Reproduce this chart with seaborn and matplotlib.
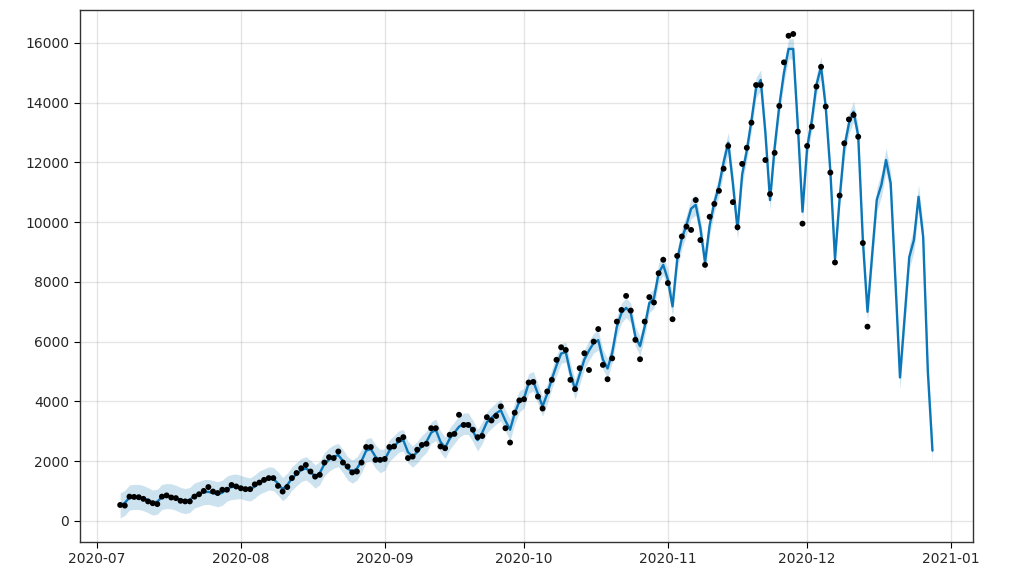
import pandas as pd
import numpy as np
import matplotlib
matplotlib.use("Agg")
import matplotlib.pyplot as plt
import matplotlib.dates as mdates
import seaborn as sns

# observed daily values, 2020-07-06 .. 2020-12-14
y_jul = [530, 510, 810, 800, 790, 735, 650, 590, 560, 810, 850, 780, 760, 670,
         650, 650, 810, 890, 1000, 1130, 980, 930, 1040, 1040, 1200, 1150]
y_aug = [1090, 1060, 1060, 1220, 1280, 1370, 1430, 1430, 1170, 980, 1130, 1430,
         1600, 1760, 1870, 1650, 1480, 1540, 1950, 2130, 2100, 2320, 1950, 1820,
         1620, 1650, 1950, 2470, 2470, 2040, 2040]
y_sep = [2070, 2470, 2490, 2710, 2800, 2100, 2150, 2380, 2540, 2580, 3100, 3100,
         2490, 2430, 2880, 2910, 3550, 3210, 3210, 3050, 2800, 2840, 3470, 3360,
         3510, 3830, 3100, 2620, 3620, 4030]
y_oct = [4070, 4630, 4650, 4160, 3760, 4330, 4720, 5390, 5810, 5720, 4720, 4410,
         5110, 5610, 5050, 6000, 6420, 5220, 4740, 5440, 6670, 7060, 7530, 7040,
         6060, 5410, 6670, 7490, 7310, 8290, 8740]
y_nov = [7960, 6750, 8870, 9520, 9850, 9740, 10740, 9400, 8570, 10180, 10610,
         11050, 11790, 12550, 10670, 9830, 11950, 12490, 13330, 14590, 14590,
         12080, 10940, 12320, 13890, 15350, 16240, 16300, 13030, 9950]
y_dec = [12550, 13200, 14540, 15200, 13870, 11660, 8650, 10890, 12640, 13440,
         13590, 12860, 9300, 6500]

# fitted / forecast line, 2020-07-06 .. 2020-12-28
yhat_jul = [520, 600, 780, 800, 800, 760, 690, 610, 640, 800, 830, 820, 770, 700,
            660, 700, 850, 900, 960, 970, 930, 890, 940, 1080, 1130, 1150]
yhat_aug = [1130, 1080, 1050, 1150, 1280, 1350, 1420, 1400, 1250, 1060, 1200,
            1420, 1560, 1700, 1760, 1640, 1480, 1600, 1900, 2050, 2150, 2200,
            2000, 1750, 1650, 1750, 2000, 2350, 2400, 2150, 2000]
yhat_sep = [2050, 2350, 2500, 2650, 2700, 2300, 2150, 2300, 2500, 2650, 2950,
            3050, 2650, 2450, 2750, 2950, 3150, 3250, 3250, 3000, 2700, 2950,
            3300, 3450, 3600, 3700, 3350, 3050, 3600, 4000]
yhat_oct = [4100, 4600, 4670, 4250, 3830, 4250, 4750, 5200, 5600, 5650, 4950,
            4400, 4900, 5400, 5700, 5950, 6050, 5400, 5100, 5620, 6500, 6960,
            7130, 6960, 6170, 5850, 6500, 7290, 7450, 8290, 8570]
yhat_nov = [8070, 7180, 8740, 9450, 9900, 10450, 10580, 9800, 8650, 9900, 10650,
            11200, 12000, 12660, 11300, 9760, 11600, 12400, 13400, 14500, 14760,
            13000, 10740, 12500, 13900, 15000, 15800, 15800, 13200, 10350]
yhat_dec = [12500, 13400, 14600, 15200, 13860, 11700, 8770, 10800, 12500, 13300,
            13700, 12900, 9400, 7000, 8900, 10750, 11250, 12080, 11300, 8100,
            4800, 6800, 8830, 9400, 10850, 9500, 5000, 2350]

# half width of the uncertainty band per month (forecast part separately)
band_half = {7: 420, 8: 390, 9: 360, 10: 330, 11: 340, 12: 340}
band_half_forecast = 400

obs_dates = pd.date_range("2020-07-06", periods=162, freq="D")
fc_dates = pd.date_range("2020-07-06", "2020-12-28", freq="D")

obs = pd.DataFrame({"ds": obs_dates,
                    "y": y_jul + y_aug + y_sep + y_oct + y_nov + y_dec})
fcst = pd.DataFrame({"ds": fc_dates,
                     "yhat": yhat_jul + yhat_aug + yhat_sep + yhat_oct + yhat_nov + yhat_dec})
half = np.where(fcst["ds"] > obs_dates[-1], band_half_forecast,
                fcst["ds"].dt.month.map(band_half))
fcst["lower"] = fcst["yhat"] - half
fcst["upper"] = fcst["yhat"] + half

sns.set_style("white")
fig = plt.figure(figsize=(10.2, 5.76), dpi=100)
ax = fig.add_axes([0.078, 0.059, 0.876, 0.924])

ax.fill_between(fcst["ds"], fcst["lower"], fcst["upper"], color="#0072B2", alpha=0.2, lw=0)
sns.lineplot(data=fcst, x="ds", y="yhat", color="#0b77b8", lw=1.7, ax=ax)
sns.scatterplot(data=obs, x="ds", y="y", color="black", s=18, edgecolor="none", ax=ax, zorder=3)

ax.xaxis.set_major_locator(mdates.MonthLocator())
ax.xaxis.set_major_formatter(mdates.DateFormatter("%Y-%m"))
ax.set_yticks(range(0, 16001, 2000))
ax.grid(True, which="major", c="gray", ls="-", lw=1, alpha=0.2)
ax.set_xlabel("")
ax.set_ylabel("")
ax.tick_params(axis="both", labelsize=10, length=4, color="black", direction="out")
ax.tick_params(axis="x", bottom=True)
ax.tick_params(axis="y", left=True)
for s in ax.spines.values():
    s.set_color("#333333")
    s.set_linewidth(1)

fig.savefig("out.png", dpi=100)
